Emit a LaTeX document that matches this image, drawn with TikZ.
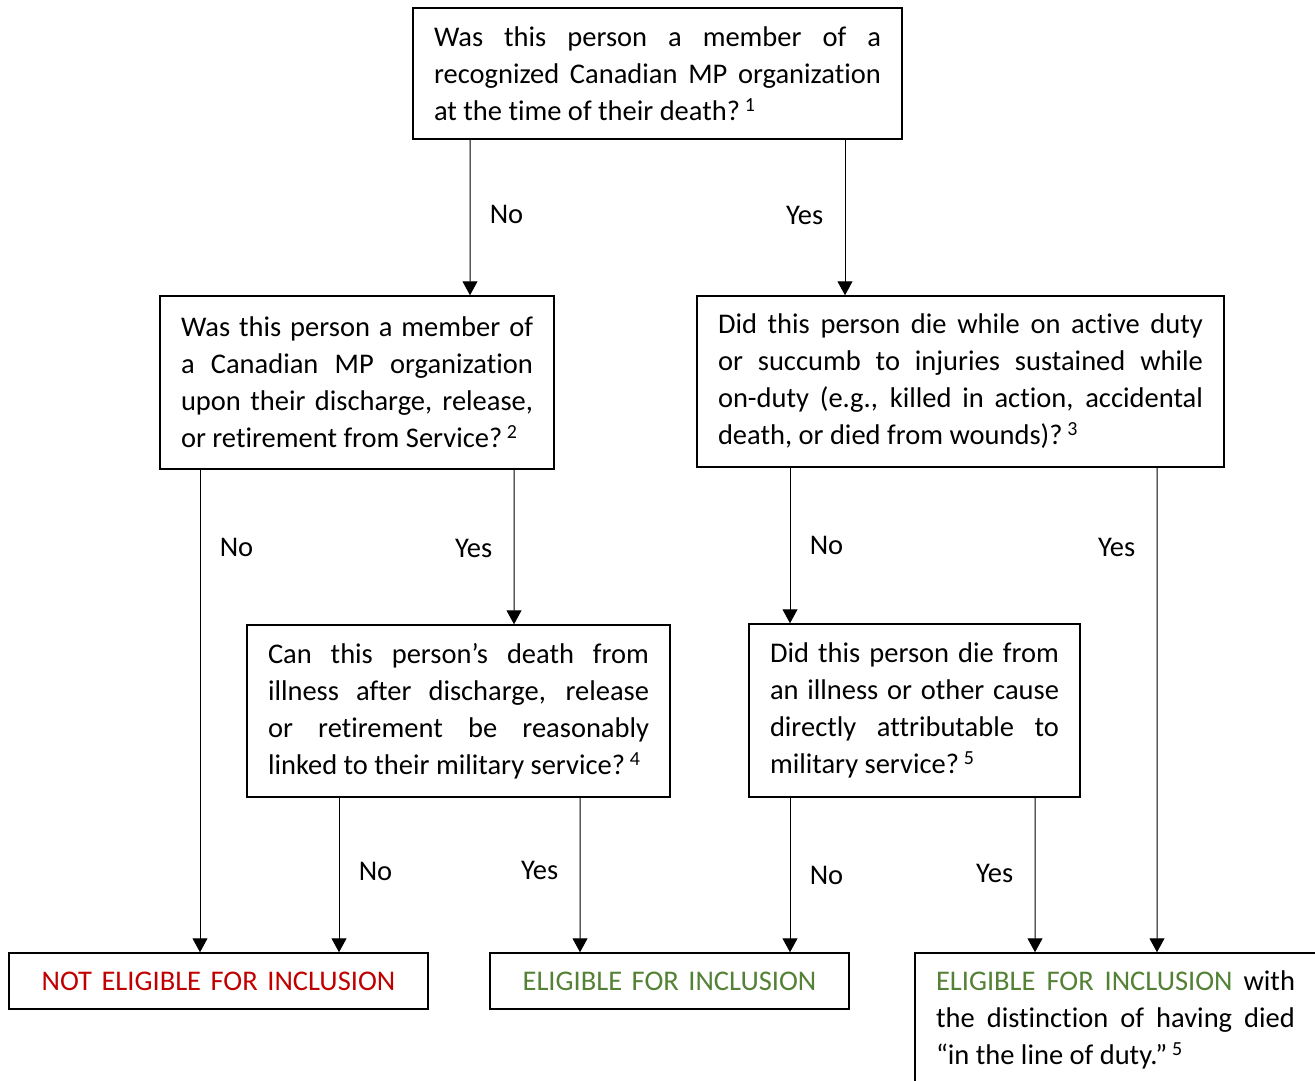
\documentclass[tikz,border=0pt]{standalone}
\usepackage{fontspec}
\setmainfont{Carlito}[Ligatures=TeX, RawFeature={-liga;-clig;-dlig;-calt}]
\usepackage{xcolor}
\usetikzlibrary{arrows.meta}

\definecolor{notred}{HTML}{C00000}
\definecolor{okgreen}{HTML}{538135}
\newcommand{\fnote}[1]{\,\textsuperscript{#1}}

\tikzset{
	qbox/.style={draw, line width=1.5bp, inner xsep=21bp, inner ysep=0bp,
		align=justify, font=\fontsize{28.5bp}{37bp}\selectfont},
	rbox/.style={qbox, align=center},
	lblr/.style={right=16bp, font=\fontsize{28.5bp}{37bp}\selectfont},
	lbll/.style={left=18bp, font=\fontsize{28.5bp}{37bp}\selectfont},
}

\begin{document}
\begin{tikzpicture}[>={Triangle[width=15bp,length=14bp]}, line width=1bp]
	\useasboundingbox (0bp,0bp) rectangle (1315bp,-1081bp);

	\node (start) at (657.5bp,-73.5bp)  [qbox, text width=447bp, minimum height=131bp]
		{Was this person a member of a\linebreak recognized Canadian MP organization\linebreak at the time of their death?\fnote{1}};
	\node (disch) at (357bp,-382.5bp)   [qbox, text width=352bp, minimum height=173bp]
		{Was this person a member of\linebreak a Canadian MP organization\linebreak upon their discharge, release,\linebreak or retirement from Service?\fnote{2}};
	\node (duty)  at (960.5bp,-381.5bp) [qbox, text width=485bp, minimum height=171bp]
		{Did this person die while on active duty\linebreak or succumb to injuries sustained while\linebreak on-duty (e.g., killed in action, accidental\linebreak death, or died from wounds)?\fnote{3}};
	\node (ill)   at (458.5bp,-711bp)   [qbox, text width=381bp, minimum height=172bp]
		{Can this person’s death from\linebreak illness after discharge, release\linebreak or retirement be reasonably\linebreak linked to their military service?\fnote{4}};
	\node (cause) at (914.5bp,-710.5bp) [qbox, text width=289bp, minimum height=173bp]
		{Did this person die from\linebreak an illness or other cause\linebreak directly attributable to\linebreak military service?\fnote{5}};

	\node (noinc) at (218.5bp,-981bp)   [rbox, text width=377bp, minimum height=56bp]
		{\color{notred}NOT ELIGIBLE FOR INCLUSION};
	\node (inc)   at (669.5bp,-981bp)   [rbox, text width=317bp, minimum height=56bp]
		{\color{okgreen}ELIGIBLE FOR INCLUSION};
	\node (incl)  at (1115.5bp,-1020bp) [qbox, text width=359bp, minimum height=134bp]
		{{\color{okgreen}ELIGIBLE FOR INCLUSION} with\linebreak the distinction of having died\linebreak “in the line of duty.”\fnote{5}};

	% first question
	\draw [->] ([xshift=-187.5bp]start.south) -- node[lblr,pos=0.48] {No}  ([xshift=113bp]disch.north);
	\draw [->] ([xshift=187.5bp]start.south)  -- node[lbll,pos=0.49] {Yes} ([xshift=-115.5bp]duty.north);
	% discharge question
	\draw [->] ([xshift=-157bp]disch.south)   -- node[lblr,pos=0.16] {No}  ([xshift=-18.5bp]noinc.north);
	\draw [->] ([xshift=157bp]disch.south)    -- node[lbll,pos=0.51] {Yes} ([xshift=55.5bp]ill.north);
	% duty question
	\draw [->] ([xshift=-170.5bp]duty.south)  -- node[lblr,pos=0.50] {No}  ([xshift=-124.5bp]cause.north);
	\draw [->] ([xshift=196.5bp]duty.south)   -- node[lbll,pos=0.165] {Yes} ([xshift=41.5bp]incl.north);
	% illness questions
	\draw [->] ([xshift=-119.5bp]ill.south)   -- node[lblr,pos=0.48] {No}  ([xshift=120.5bp]noinc.north);
	\draw [->] ([xshift=121.5bp]ill.south)    -- node[lbll,pos=0.47] {Yes} ([xshift=-89.5bp]inc.north);
	\draw [->] ([xshift=-124.5bp]cause.south) -- node[lblr,pos=0.50] {No}  ([xshift=120.5bp]inc.north);
	\draw [->] ([xshift=120.5bp]cause.south)  -- node[lbll,pos=0.49] {Yes} ([xshift=-80.5bp]incl.north);
\end{tikzpicture}
\end{document}
